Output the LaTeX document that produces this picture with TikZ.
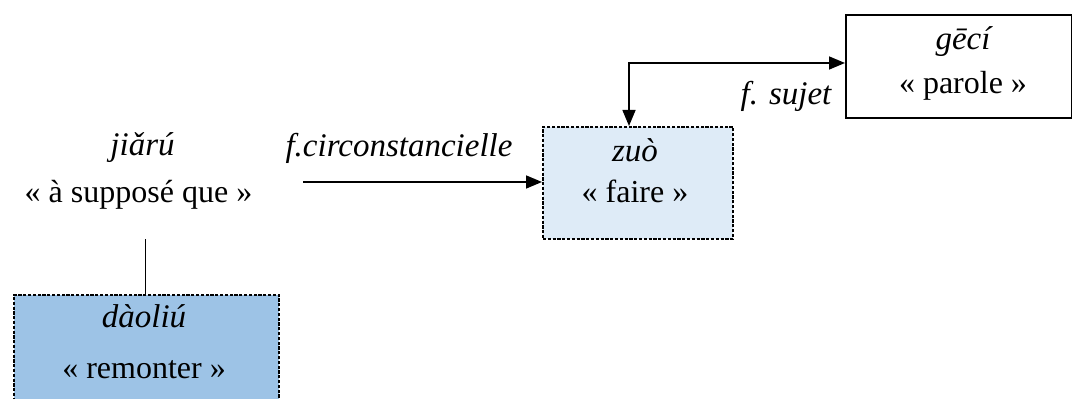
\documentclass[tikz,border=0pt]{standalone}
\usepackage{fontspec}
\setmainfont{Liberation Serif}
\usetikzlibrary{arrows.meta,calc}
\definecolor{fondzuo}{RGB}{222,235,247}
\definecolor{fonddaoliu}{RGB}{157,195,230}
\begin{document}
\begin{tikzpicture}[x=0.5pt,y=-0.5pt,>={Triangle[length=8pt,width=6.5pt]},
		txt/.style={inner sep=0pt,font=\fontsize{16}{19}\selectfont},
		itxt/.style={inner sep=0pt,font=\fontsize{16.5}{19}\selectfont\itshape},
		motbox/.style={draw,line width=1pt,inner sep=0pt,anchor=north west},
		pointille/.style={dash pattern=on 1.6pt off 0.8pt}]
			\useasboundingbox (0,0) rectangle (1072,399);
			\clip (0,0) rectangle (1072,399);
			% boites
			\node[motbox,minimum width=113pt,minimum height=51.5pt] (geci) at (845,14) {};
			\node[motbox,pointille,fill=fondzuo,minimum width=95pt,minimum height=56pt] (zuo) at (542,126) {};
			\node[motbox,pointille,fill=fonddaoliu,minimum width=132.5pt,minimum height=70pt] (daoliu) at (13,294) {};
			% textes
			\node[itxt] (t-geci) at (963,42) {gēcí};
			\node[txt] (t-parole) at (963,86) {« parole »};
			\node[itxt] (t-zuo) at (635,150) {zuò};
			\node[txt] (t-faire) at (635,191) {« faire »};
			\node[itxt] (t-jiaru) at (142.5,148) {jiǎrú};
			\node[txt] (t-suppose) at (138.5,195) {« à supposé que »};
			\node[itxt] (t-daoliu) at (144,316) {dàoliú};
			\node[txt] (t-remonter) at (144,370) {« remonter »};
			\node[itxt] (t-circ) at (399,148) {f.circonstancielle};
			\node[itxt] (t-sujet) at (786,96) {f. sujet};
			% liens
			\coordinate (c-circ) at (303,182);
			\coordinate (c-jiaru) at (145.5,239);
			\draw[->,line width=0.8pt] (c-circ) -- (c-circ -| zuo.west);
			\draw[<->,line width=0.8pt] ($(zuo.north west)+(87,0)$) |- ($(geci.west)+(0,-3.5)$);
			\draw[line width=0.8pt] (c-jiaru |- daoliu.north) -- (c-jiaru);
		\end{tikzpicture}
\end{document}
